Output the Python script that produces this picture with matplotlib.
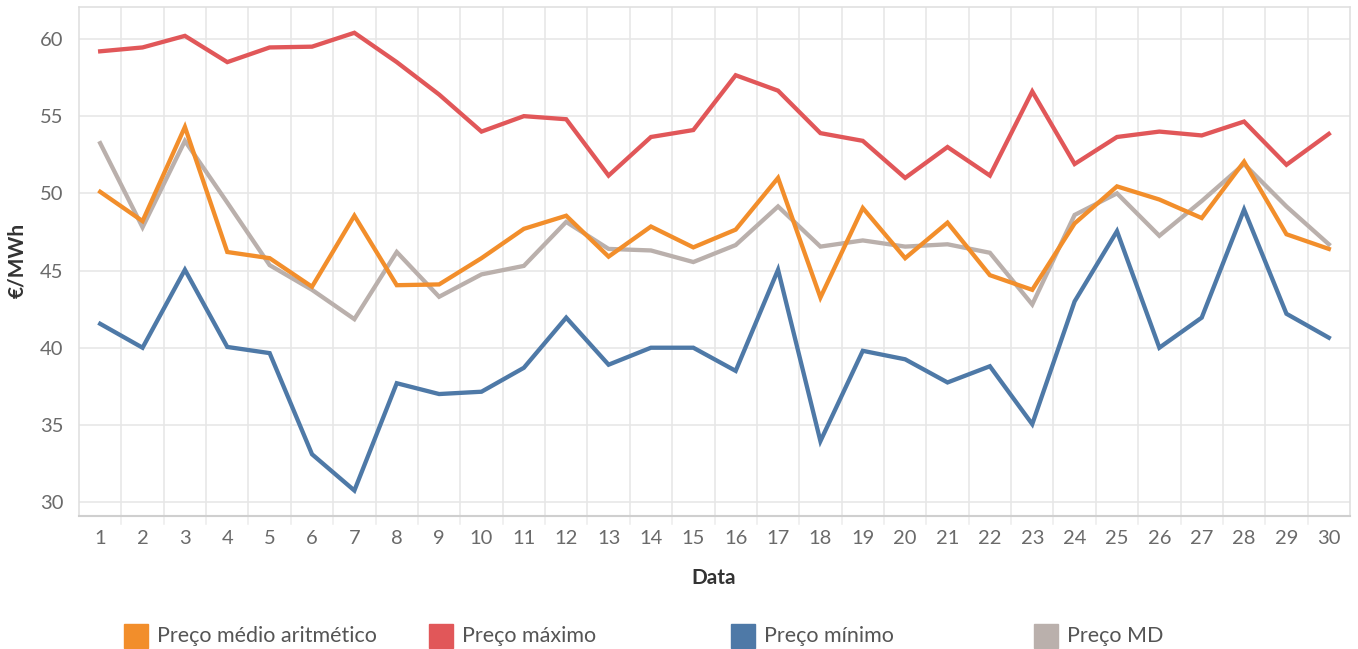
import matplotlib
matplotlib.use("Agg")
import matplotlib.pyplot as plt
from matplotlib.patches import Rectangle

days = list(range(1, 31))
preco_medio = [50.1, 48.2, 54.3, 46.2, 45.8, 43.95, 48.55, 44.05, 44.1, 45.8,
               47.7, 48.55, 45.9, 47.85, 46.5, 47.65, 51.0, 43.25, 49.05, 45.8,
               48.1, 44.7, 43.75, 48.05, 50.45, 49.6, 48.4, 52.05, 47.35, 46.4]
preco_max = [59.2, 59.45, 60.2, 58.5, 59.45, 59.5, 60.4, 58.5, 56.4, 54.0,
             55.0, 54.8, 51.15, 53.65, 54.1, 57.65, 56.65, 53.9, 53.4, 51.0,
             53.0, 51.15, 56.6, 51.9, 53.65, 54.0, 53.75, 54.65, 51.85, 53.85]
preco_min = [41.55, 40.0, 45.05, 40.05, 39.65, 33.1, 30.75, 37.7, 37.0, 37.15,
             38.7, 41.95, 38.9, 40.0, 40.0, 38.5, 45.05, 33.95, 39.8, 39.25,
             37.75, 38.8, 35.05, 43.0, 47.55, 40.0, 41.95, 48.95, 42.2, 40.65]
preco_md = [53.25, 47.8, 53.4, 49.4, 45.35, 43.75, 41.85, 46.2, 43.3, 44.75,
            45.3, 48.15, 46.4, 46.3, 45.55, 46.65, 49.15, 46.55, 46.95, 46.55,
            46.7, 46.15, 42.8, 48.6, 50.0, 47.25, 49.5, 51.9, 49.15, 46.7]

series = [
    ("Preço médio aritmético", preco_medio, "#F28E2B"),
    ("Preço máximo", preco_max, "#E15759"),
    ("Preço mínimo", preco_min, "#4E79A7"),
    ("Preço MD", preco_md, "#BAB0AC"),
]
draw_order = [3, 0, 2, 1]
yticks = [30, 35, 40, 45, 50, 55, 60]

plt.rcParams['font.family'] = ['Lato', 'DejaVu Sans']

W, H = 1358, 649
fig = plt.figure(figsize=(W / 100, H / 100), dpi=100)
ax = fig.add_axes([79 / W, 1 - 516 / H, (1350 - 79) / W, (516 - 7) / H])

for i in draw_order:
    name, vals, col = series[i]
    ax.plot(days, vals, color=col, lw=3.1, solid_joinstyle='miter', zorder=3)

ax.set_xlim(0.5, 30.5)
ax.set_ylim(29.1, 62.07)
ax.set_yticks(yticks)
ax.set_xticks(days)
ax.tick_params(axis='both', length=0, labelsize=14.5, labelcolor='#6a6a6a')
ax.tick_params(axis='x', pad=10)
ax.tick_params(axis='y', pad=11)

for y in yticks:
    ax.axhline(y, color='#e6e6e6', lw=1.1, zorder=1)
for b in range(1, 30):
    ax.axvline(b + 0.5, color='#e6e6e6', lw=1.1, zorder=1)
    ax.plot([b + 0.5, b + 0.5], [0, -0.016], transform=ax.get_xaxis_transform(),
            color='#ececec', lw=1.1, clip_on=False)

for s in ['top', 'left', 'right']:
    ax.spines[s].set_color('#dedede')
    ax.spines[s].set_linewidth(1.1)
ax.spines['bottom'].set_color('#cfcfcf')
ax.spines['bottom'].set_linewidth(1.5)

fig.text(17 / W, 1 - 260 / H, "€/MWh", rotation=90, ha='center', va='center',
         fontsize=15, fontweight='bold', color='#333333')
fig.text(714 / W, 1 - 578 / H, "Data", ha='center', va='center',
         fontsize=15, fontweight='bold', color='#333333')

leg_x = [124, 429, 731, 1034]
for (name, vals, col), lx in zip(series, leg_x):
    fig.patches.append(Rectangle((lx / W, 1 - 648 / H), 24 / W, 24 / H,
                                 transform=fig.transFigure, color=col))
    fig.text((lx + 33) / W, 1 - 636 / H, name, ha='left', va='center',
             fontsize=15.5, color='#555555')

fig.savefig("out.png", dpi=100)
